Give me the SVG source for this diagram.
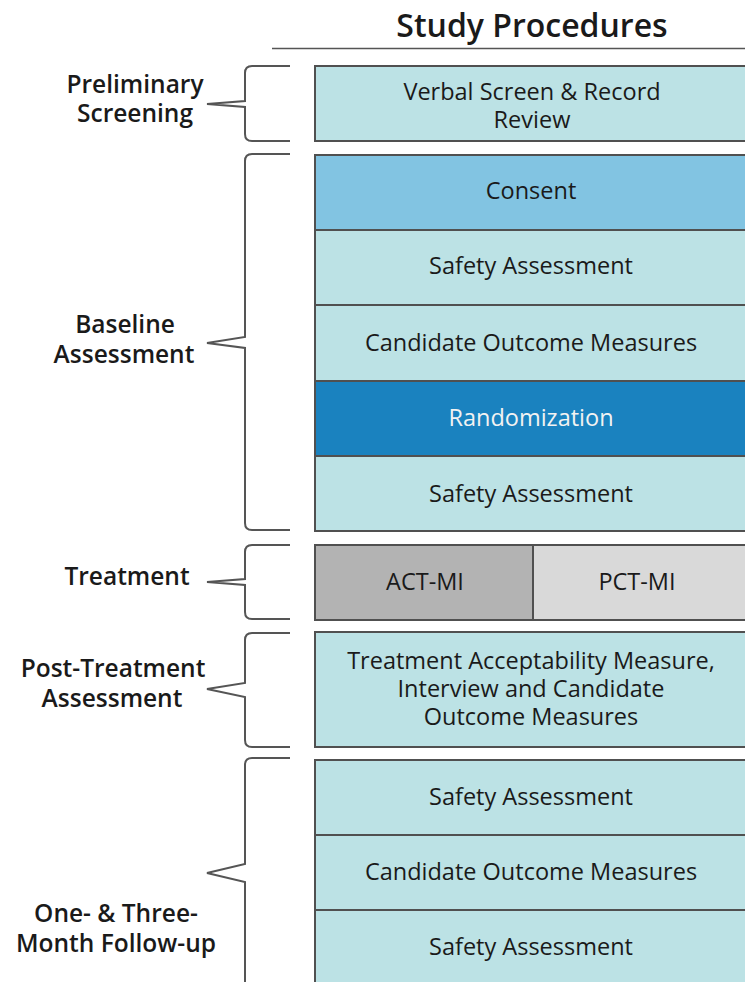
<svg xmlns="http://www.w3.org/2000/svg" width="745" height="982" viewBox="0 0 745 982">
<style>
  .box{stroke:#505050;stroke-width:2}
  .teal{fill:#bce2e5}
  .consent{fill:#82c4e2}
  .rand{fill:#1a82bf}
  .act{fill:#b3b3b3}
  .pct{fill:#d9d9d9}
  .t{font-family:"Open Sans","DejaVu Sans",sans-serif;font-size:23.5px;font-weight:500;fill:#1a1a1a;text-anchor:middle}
  .tw{font-family:"Open Sans","DejaVu Sans",sans-serif;font-size:23.5px;font-weight:500;fill:#f2f2f2;text-anchor:middle}
  .lbl{font-family:"Open Sans","DejaVu Sans",sans-serif;font-size:24.5px;font-weight:600;fill:#1a1a1a;text-anchor:middle}
  .hdr{font-family:"Open Sans","DejaVu Sans",sans-serif;font-size:32px;font-weight:600;fill:#1a1a1a;text-anchor:middle}
  .brace{fill:none;stroke:#555;stroke-width:2;stroke-linejoin:miter}
</style>
<rect width="745" height="982" fill="#ffffff"/>

<g id="header">
  <text class="hdr" x="532" y="37">Study Procedures</text>
  <line x1="272" y1="48.5" x2="745" y2="48.5" stroke="#555" stroke-width="1.5"/>
</g>

<g id="connectors">
  <path class="brace" d="M290,66 H252 Q245,66 245,73 V101 L207,104 L245,107 V134 Q245,141 252,141 H290"/>
  <path class="brace" d="M290,154 H252 Q245,154 245,161 V337 L207,343 L245,348 V523 Q245,530 252,530 H290"/>
  <path class="brace" d="M290,545 H252 Q245,545 245,552 V579 L207,582 L245,585 V612 Q245,619 252,619 H290"/>
  <path class="brace" d="M290,633 H252 Q245,633 245,640 V683 L207,689 L245,697 V740 Q245,747 252,747 H290"/>
  <path class="brace" d="M290,758 H252 Q245,758 245,765 V864 L207,873 L245,882 V990"/>
</g>

<g id="label-preliminary">
  <text class="lbl" x="135" y="93">Preliminary</text>
  <text class="lbl" x="135" y="122">Screening</text>
</g>
<g id="label-baseline">
  <text class="lbl" x="125" y="333">Baseline</text>
  <text class="lbl" x="124" y="363">Assessment</text>
</g>
<g id="label-treatment">
  <text class="lbl" x="127" y="585">Treatment</text>
</g>
<g id="label-post">
  <text class="lbl" x="113" y="677">Post-Treatment</text>
  <text class="lbl" x="112" y="707">Assessment</text>
</g>
<g id="label-followup">
  <text class="lbl" x="116" y="922">One- &amp; Three-</text>
  <text class="lbl" x="116" y="952">Month Follow-up</text>
</g>

<g id="verbal-screen">
  <rect class="box teal" x="315" y="66" width="440" height="75"/>
  <text class="t" x="532" y="100">Verbal Screen &amp; Record</text>
  <text class="t" x="532" y="128">Review</text>
</g>

<g id="consent">
  <rect class="box consent" x="315" y="155" width="440" height="75"/>
  <text class="t" x="531" y="199">Consent</text>
</g>
<g id="safety-1">
  <rect class="box teal" x="315" y="230" width="440" height="75"/>
  <text class="t" x="531" y="274">Safety Assessment</text>
</g>
<g id="outcome-1">
  <rect class="box teal" x="315" y="305" width="440" height="76"/>
  <text class="t" x="531" y="351">Candidate Outcome Measures</text>
</g>
<g id="randomization">
  <rect class="box rand" x="315" y="381" width="440" height="75"/>
  <text class="tw" x="531" y="426">Randomization</text>
</g>
<g id="safety-2">
  <rect class="box teal" x="315" y="456" width="440" height="75"/>
  <text class="t" x="531" y="502">Safety Assessment</text>
</g>

<g id="act-mi">
  <rect class="box act" x="315" y="545" width="218" height="75"/>
  <text class="t" x="425" y="590">ACT-MI</text>
</g>
<g id="pct-mi">
  <rect class="box pct" x="533" y="545" width="222" height="75"/>
  <text class="t" x="637" y="590">PCT-MI</text>
</g>

<g id="post-treatment">
  <rect class="box teal" x="315" y="632" width="440" height="115"/>
  <text class="t" x="531" y="669">Treatment Acceptability Measure,</text>
  <text class="t" x="531" y="697">Interview and Candidate</text>
  <text class="t" x="531" y="725">Outcome Measures</text>
</g>

<g id="safety-3">
  <rect class="box teal" x="315" y="760" width="440" height="75"/>
  <text class="t" x="531" y="805">Safety Assessment</text>
</g>
<g id="outcome-2">
  <rect class="box teal" x="315" y="835" width="440" height="75"/>
  <text class="t" x="531" y="880">Candidate Outcome Measures</text>
</g>
<g id="safety-4">
  <rect class="box teal" x="315" y="910" width="440" height="80"/>
  <text class="t" x="531" y="955">Safety Assessment</text>
</g>
</svg>
